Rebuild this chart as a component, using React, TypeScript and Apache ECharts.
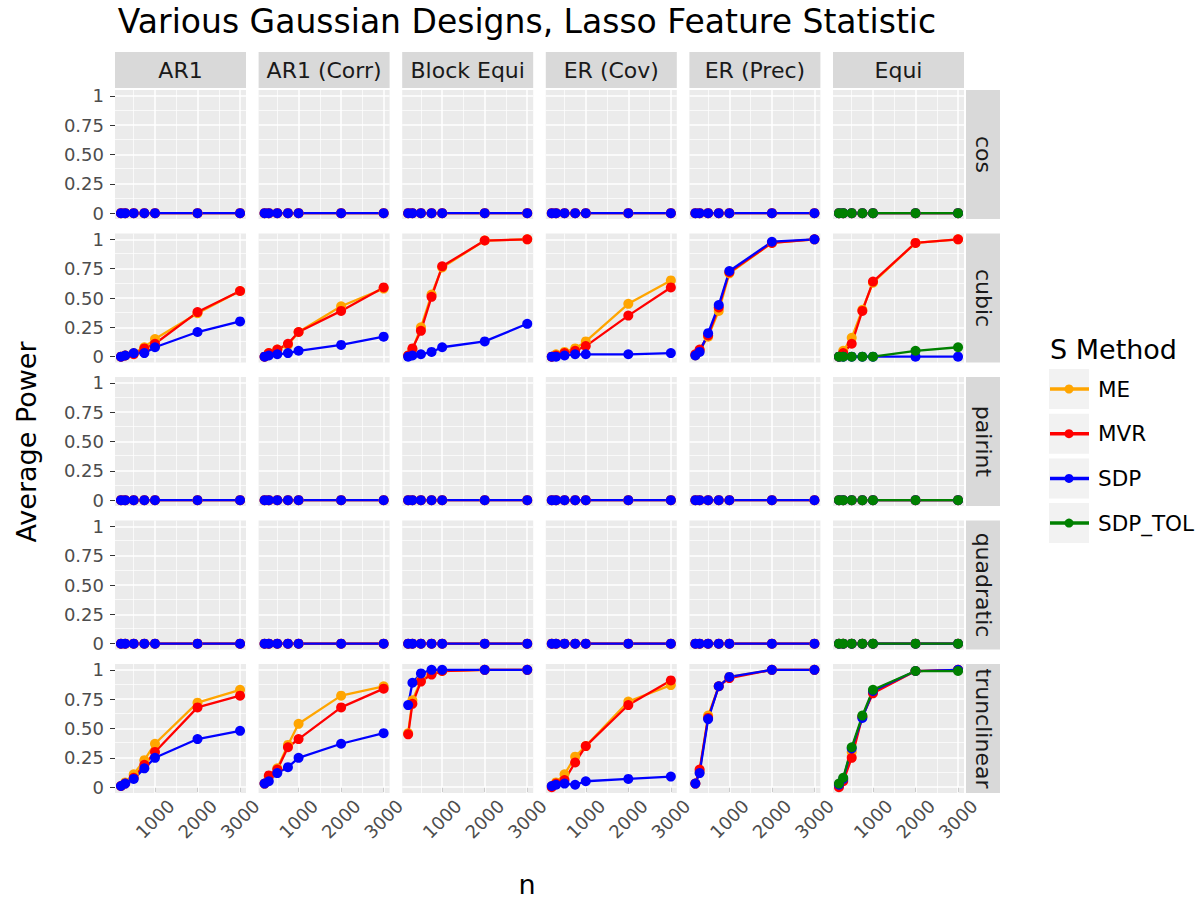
import React, { useEffect, useRef } from "react";
import * as echarts from "echarts";

const nValues = [200, 300, 500, 750, 1000, 2000, 3000];
const designs = ["AR1", "AR1 (Corr)", "Block Equi", "ER (Cov)", "ER (Prec)", "Equi"];
const functions = ["cos", "cubic", "pairint", "quadratic", "trunclinear"];
const methods = ["ME", "MVR", "SDP", "SDP_TOL"];
const methodColors = ["#FFA500", "#FF0000", "#0000FF", "#008000"];
const yTicks = [0, 0.25, 0.5, 0.75, 1];
const xTicks = [1000, 2000, 3000];
const yMinorTicks = [0.125, 0.375, 0.625, 0.875];
const xMinorTicks = [500, 1500, 2500];

// cos, pairint, quadratic: power is zero everywhere
const zeroPower = [0, 0, 0, 0, 0, 0, 0];

// cubic — one row per design (AR1, AR1 (Corr), Block Equi, ER (Cov), ER (Prec), Equi)
const cubicME = [
  [0, 0.01, 0.03, 0.08, 0.15, 0.37, 0.56],
  [0, 0.03, 0.06, 0.1, 0.21, 0.43, 0.58],
  [0.01, 0.06, 0.25, 0.53, 0.76, 0.99, 1.0],
  [0, 0.02, 0.04, 0.07, 0.13, 0.45, 0.65],
  [0.01, 0.05, 0.17, 0.39, 0.71, 0.97, 1.0],
  [0, 0.05, 0.16, 0.4, 0.63, 0.97, 1.0],
];
const cubicMVR = [
  [0, 0.01, 0.02, 0.07, 0.11, 0.38, 0.56],
  [0, 0.03, 0.06, 0.11, 0.21, 0.39, 0.59],
  [0.01, 0.07, 0.22, 0.51, 0.77, 0.99, 1.0],
  [0, 0.01, 0.03, 0.05, 0.09, 0.35, 0.59],
  [0.02, 0.06, 0.18, 0.42, 0.72, 0.97, 1.0],
  [0, 0.03, 0.11, 0.39, 0.64, 0.97, 1.0],
];
const cubicSDP = [
  [0, 0.01, 0.03, 0.03, 0.08, 0.21, 0.3],
  [0, 0.01, 0.02, 0.03, 0.05, 0.1, 0.17],
  [0, 0.01, 0.02, 0.04, 0.08, 0.13, 0.28],
  [0, 0, 0.01, 0.02, 0.02, 0.02, 0.03],
  [0.01, 0.04, 0.2, 0.44, 0.73, 0.98, 1.0],
  [0, 0, 0, 0, 0, 0, 0],
];
const cubicSDPTOL = [null, null, null, null, null, [0, 0, 0, 0, 0, 0.05, 0.08]];

// trunclinear
const truncME = [
  [0.01, 0.04, 0.11, 0.23, 0.37, 0.72, 0.83],
  [0.03, 0.09, 0.16, 0.36, 0.54, 0.78, 0.86],
  [0.46, 0.74, 0.91, 0.97, 0.99, 1.0, 1.0],
  [0.01, 0.04, 0.11, 0.26, 0.35, 0.73, 0.87],
  [0.03, 0.13, 0.61, 0.86, 0.94, 1.0, 1.0],
  [0.01, 0.06, 0.3, 0.6, 0.81, 0.99, 1.0],
];
const truncMVR = [
  [0.01, 0.03, 0.08, 0.19, 0.3, 0.68, 0.78],
  [0.03, 0.1, 0.15, 0.34, 0.41, 0.68, 0.84],
  [0.45, 0.71, 0.9, 0.96, 0.99, 1.0, 1.0],
  [0, 0.03, 0.06, 0.21, 0.35, 0.7, 0.91],
  [0.03, 0.15, 0.59, 0.86, 0.93, 1.0, 1.0],
  [0, 0.05, 0.25, 0.6, 0.8, 0.99, 1.0],
];
const truncSDP = [
  [0.01, 0.03, 0.07, 0.16, 0.25, 0.41, 0.48],
  [0.03, 0.05, 0.12, 0.17, 0.25, 0.37, 0.46],
  [0.7, 0.89, 0.97, 1.0, 1.0, 1.0, 1.0],
  [0.01, 0.02, 0.03, 0.02, 0.05, 0.07, 0.09],
  [0.03, 0.12, 0.58, 0.86, 0.94, 1.0, 1.0],
  [0.02, 0.07, 0.33, 0.59, 0.82, 0.99, 1.0],
];
const truncSDPTOL = [null, null, null, null, null, [0.03, 0.08, 0.34, 0.61, 0.83, 0.99, 0.99]];

// layout
const FONT = "DejaVu Sans";
const colLeft = [115, 258.6, 402.2, 545.8, 689.4, 833];
const rowTop = [90, 233.5, 377, 520.5, 664];
const panelW = 131;
const panelH = 129;

function getValues(f: number, d: number, m: number): number[] | null {
  const fname = functions[f];
  if (fname === "cubic") {
    return [cubicME, cubicMVR, cubicSDP, cubicSDPTOL][m][d];
  }
  if (fname === "trunclinear") {
    return [truncME, truncMVR, truncSDP, truncSDPTOL][m][d];
  }
  if (m === 3 && designs[d] !== "Equi") return null;
  return zeroPower;
}

function buildOption() {
  const grids: any[] = [];
  const xAxes: any[] = [];
  const yAxes: any[] = [];
  const series: any[] = [];
  const graphic: any[] = [];
  const tickText = { fontSize: 18, fontFamily: FONT, color: "#4D4D4D" };
  let idx = 0;
  for (let r = 0; r < functions.length; r++) {
    for (let c = 0; c < designs.length; c++) {
      const bottom = r === functions.length - 1;
      const left = c === 0;
      grids.push({
        left: colLeft[c],
        top: rowTop[r],
        width: panelW,
        height: panelH,
        show: true,
        backgroundColor: "#EBEBEB",
        borderWidth: 0,
        containLabel: false,
      });
      xAxes.push({
        type: "value",
        gridIndex: idx,
        min: 60,
        max: 3140,
        axisLine: { show: false },
        splitLine: { show: false },
        axisTick: {
          show: bottom,
          customValues: xTicks,
          length: 5,
          lineStyle: { color: "#333333", width: 1 },
        },
        axisLabel: {
          show: bottom,
          customValues: xTicks,
          rotate: 45,
          align: "center",
          verticalAlign: "middle",
          margin: 26,
          ...tickText,
          formatter: (v: number) => String(Math.round(v)),
        },
      });
      yAxes.push({
        type: "value",
        gridIndex: idx,
        min: -0.05,
        max: 1.05,
        axisLine: { show: false },
        splitLine: { show: false },
        axisTick: {
          show: left,
          customValues: yTicks,
          length: 5,
          lineStyle: { color: "#333333", width: 1 },
        },
        axisLabel: {
          show: left,
          customValues: yTicks,
          margin: 11,
          ...tickText,
          formatter: (v: number) => (v === 0 ? "0" : v === 1 ? "1" : v.toFixed(2)),
        },
      });
      // gridlines
      const gl: any[] = [];
      xMinorTicks.forEach((v) => gl.push({ xAxis: v, lineStyle: { width: 0.7 } }));
      yMinorTicks.forEach((v) => gl.push({ yAxis: v, lineStyle: { width: 0.7 } }));
      xTicks.forEach((v) => gl.push({ xAxis: v, lineStyle: { width: 1.5 } }));
      yTicks.forEach((v) => gl.push({ yAxis: v, lineStyle: { width: 1.5 } }));

      let first = true;
      for (let m = 0; m < methods.length; m++) {
        const vals = getValues(r, c, m);
        if (!vals) continue;
        const s: any = {
          type: "line",
          name: methods[m],
          xAxisIndex: idx,
          yAxisIndex: idx,
          data: nValues.map((n, i) => [n, vals[i]]),
          symbol: "circle",
          symbolSize: 10,
          showAllSymbol: true,
          color: methodColors[m],
          lineStyle: { color: methodColors[m], width: 2.3 },
          itemStyle: { color: methodColors[m] },
          z: 3,
          silent: true,
          clip: false,
          emphasis: { disabled: true },
        };
        if (first) {
          s.markLine = {
            silent: true,
            z: 1,
            symbol: ["none", "none"],
            label: { show: false },
            lineStyle: { color: "#FFFFFF", type: "solid" },
            emphasis: { disabled: true },
            data: gl,
          };
          first = false;
        }
        series.push(s);
      }
      idx++;
    }
  }

  // column strips
  designs.forEach((d, c) => {
    graphic.push({
      type: "rect",
      shape: { x: colLeft[c], y: 52, width: panelW, height: 36 },
      style: { fill: "#D9D9D9" },
      silent: true,
    });
    graphic.push({
      type: "text",
      x: colLeft[c] + panelW / 2,
      y: 70,
      style: { text: d, fontSize: 22, fontFamily: FONT, fill: "#1A1A1A", align: "center", verticalAlign: "middle" },
      silent: true,
    });
  });
  // row strips
  functions.forEach((f, r) => {
    graphic.push({
      type: "rect",
      shape: { x: 966, y: rowTop[r], width: 34, height: panelH },
      style: { fill: "#D9D9D9" },
      silent: true,
    });
    graphic.push({
      type: "text",
      x: 983,
      y: rowTop[r] + panelH / 2,
      rotation: -Math.PI / 2,
      style: { text: f, fontSize: 22, fontFamily: FONT, fill: "#1A1A1A", align: "center", verticalAlign: "middle" },
      silent: true,
    });
  });
  // title and axis titles
  graphic.push({
    type: "text",
    x: 527,
    y: 21,
    style: { text: "Various Gaussian Designs, Lasso Feature Statistic", fontSize: 33, fontFamily: FONT, fill: "#000", align: "center", verticalAlign: "middle" },
    silent: true,
  });
  graphic.push({
    type: "text",
    x: 26,
    y: 442,
    rotation: Math.PI / 2,
    style: { text: "Average Power", fontSize: 27, fontFamily: FONT, fill: "#000", align: "center", verticalAlign: "middle" },
    silent: true,
  });
  graphic.push({
    type: "text",
    x: 527,
    y: 884,
    style: { text: "n", fontSize: 27, fontFamily: FONT, fill: "#000", align: "center", verticalAlign: "middle" },
    silent: true,
  });
  // legend
  graphic.push({
    type: "text",
    x: 1050,
    y: 349,
    style: { text: "S Method", fontSize: 27, fontFamily: FONT, fill: "#000", align: "left", verticalAlign: "middle" },
    silent: true,
  });
  methods.forEach((m, i) => {
    const top = 369 + i * 44.7;
    const cy = top + 20;
    graphic.push({ type: "rect", shape: { x: 1049, y: top, width: 40, height: 40 }, style: { fill: "#F2F2F2" }, silent: true });
    graphic.push({ type: "line", shape: { x1: 1050, y1: cy, x2: 1089, y2: cy }, style: { stroke: methodColors[i], lineWidth: 3.5 }, silent: true });
    graphic.push({ type: "circle", shape: { cx: 1069, cy, r: 4.5 }, style: { fill: methodColors[i] }, silent: true });
    graphic.push({
      type: "text",
      x: 1098,
      y: cy,
      style: { text: m, fontSize: 21.5, fontFamily: FONT, fill: "#000", align: "left", verticalAlign: "middle" },
      silent: true,
    });
  });

  return {
    animation: false,
    grid: grids,
    xAxis: xAxes,
    yAxis: yAxes,
    series,
    graphic,
  };
}

export default function App() {
  const ref = useRef<HTMLDivElement>(null);
  useEffect(() => {
    if (!ref.current) return;
    const chart = echarts.init(ref.current, undefined, { renderer: "svg" });
    chart.setOption(buildOption() as any);
    return () => chart.dispose();
  }, []);
  return (
    <div
      ref={ref}
      style={{ position: "absolute", left: 0, top: 0, width: 1202, height: 903, background: "#fff" }}
    />
  );
}
